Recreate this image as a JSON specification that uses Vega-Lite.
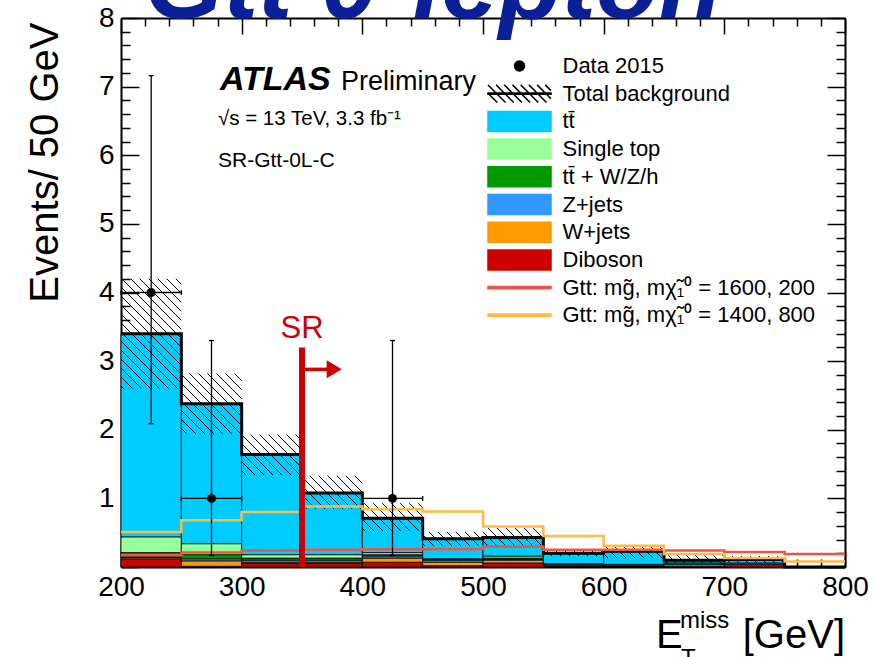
{
  "$schema": "https://vega.github.io/schema/vega-lite/v6.json",
  "width": 724,
  "height": 549,
  "autosize": {"type": "none"},
  "padding": {"left": 121, "top": 18, "right": 30, "bottom": 90},
  "background": "white",
  "config": {
    "view": {"stroke": null},
    "font": "Liberation Sans",
    "axis": {"grid": false, "domainColor": "black", "tickColor": "black", "labelColor": "black", "labelFont": "Liberation Sans", "labelFontSize": 28, "tickWidth": 1.5, "domainWidth": 2, "zindex": 1, "labelFlush": false, "labelOverlap": false, "titleColor": "black"}
  },
  "datasets": {
    "stack": [
      {"lo":200,"hi":250,"p":"Diboson","k":1,"v":0.12},{"lo":200,"hi":250,"p":"W+jets","k":2,"v":0.02},{"lo":200,"hi":250,"p":"Z+jets","k":3,"v":0.01},{"lo":200,"hi":250,"p":"tt\u0304 + W/Z/h","k":4,"v":0.06},{"lo":200,"hi":250,"p":"Single top","k":5,"v":0.23},{"lo":200,"hi":250,"p":"tt\u0304","k":6,"v":2.96},
      {"lo":250,"hi":300,"p":"Diboson","k":1,"v":0.01},{"lo":250,"hi":300,"p":"W+jets","k":2,"v":0.08},{"lo":250,"hi":300,"p":"Z+jets","k":3,"v":0.03},{"lo":250,"hi":300,"p":"tt\u0304 + W/Z/h","k":4,"v":0.06},{"lo":250,"hi":300,"p":"Single top","k":5,"v":0.16},{"lo":250,"hi":300,"p":"tt\u0304","k":6,"v":2.04},
      {"lo":300,"hi":350,"p":"Diboson","k":1,"v":0.05},{"lo":300,"hi":350,"p":"W+jets","k":2,"v":0.02},{"lo":300,"hi":350,"p":"Z+jets","k":3,"v":0.03},{"lo":300,"hi":350,"p":"tt\u0304 + W/Z/h","k":4,"v":0.03},{"lo":300,"hi":350,"p":"Single top","k":5,"v":0.05},{"lo":300,"hi":350,"p":"tt\u0304","k":6,"v":1.46},
      {"lo":350,"hi":400,"p":"Diboson","k":1,"v":0.05},{"lo":350,"hi":400,"p":"W+jets","k":2,"v":0.02},{"lo":350,"hi":400,"p":"Z+jets","k":3,"v":0.03},{"lo":350,"hi":400,"p":"tt\u0304 + W/Z/h","k":4,"v":0.03},{"lo":350,"hi":400,"p":"Single top","k":5,"v":0.05},{"lo":350,"hi":400,"p":"tt\u0304","k":6,"v":0.90},
      {"lo":400,"hi":450,"p":"Diboson","k":1,"v":0.07},{"lo":400,"hi":450,"p":"W+jets","k":2,"v":0.06},{"lo":400,"hi":450,"p":"Z+jets","k":3,"v":0.03},{"lo":400,"hi":450,"p":"tt\u0304 + W/Z/h","k":4,"v":0.02},{"lo":400,"hi":450,"p":"Single top","k":5,"v":0.03},{"lo":400,"hi":450,"p":"tt\u0304","k":6,"v":0.50},
      {"lo":450,"hi":500,"p":"Diboson","k":1,"v":0.02},{"lo":450,"hi":500,"p":"W+jets","k":2,"v":0.05},{"lo":450,"hi":500,"p":"Z+jets","k":3,"v":0.03},{"lo":450,"hi":500,"p":"tt\u0304 + W/Z/h","k":4,"v":0.01},{"lo":450,"hi":500,"p":"Single top","k":5,"v":0.01},{"lo":450,"hi":500,"p":"tt\u0304","k":6,"v":0.29},
      {"lo":500,"hi":550,"p":"Diboson","k":1,"v":0.06},{"lo":500,"hi":550,"p":"W+jets","k":2,"v":0.04},{"lo":500,"hi":550,"p":"Z+jets","k":3,"v":0.01},{"lo":500,"hi":550,"p":"tt\u0304 + W/Z/h","k":4,"v":0.02},{"lo":500,"hi":550,"p":"Single top","k":5,"v":0.03},{"lo":500,"hi":550,"p":"tt\u0304","k":6,"v":0.27},
      {"lo":550,"hi":600,"p":"Diboson","k":1,"v":0.01},{"lo":550,"hi":600,"p":"W+jets","k":2,"v":0.01},{"lo":550,"hi":600,"p":"Z+jets","k":3,"v":0.02},{"lo":550,"hi":600,"p":"tt\u0304 + W/Z/h","k":4,"v":0.01},{"lo":550,"hi":600,"p":"tt\u0304","k":6,"v":0.15},
      {"lo":600,"hi":650,"p":"Diboson","k":1,"v":0.01},{"lo":600,"hi":650,"p":"tt\u0304 + W/Z/h","k":4,"v":0.02},{"lo":600,"hi":650,"p":"Single top","k":5,"v":0.01},{"lo":600,"hi":650,"p":"tt\u0304","k":6,"v":0.19},
      {"lo":650,"hi":700,"p":"Diboson","k":1,"v":0.01},{"lo":650,"hi":700,"p":"Z+jets","k":3,"v":0.03},{"lo":650,"hi":700,"p":"tt\u0304 + W/Z/h","k":4,"v":0.02},{"lo":650,"hi":700,"p":"tt\u0304","k":6,"v":0.04},
      {"lo":700,"hi":750,"p":"Diboson","k":1,"v":0.04},{"lo":700,"hi":750,"p":"Z+jets","k":3,"v":0.02},{"lo":700,"hi":750,"p":"tt\u0304","k":6,"v":0.05}
    ],
    "bins": [
      {"x":200,"tot":3.40,"blo":2.60,"bhi":4.20},
      {"x":250,"tot":2.38,"blo":1.94,"bhi":2.82},
      {"x":300,"tot":1.64,"blo":1.34,"bhi":1.93},
      {"x":350,"tot":1.08,"blo":0.85,"bhi":1.33},
      {"x":400,"tot":0.71,"blo":0.53,"bhi":0.93},
      {"x":450,"tot":0.41,"blo":0.31,"bhi":0.51},
      {"x":500,"tot":0.43,"blo":0.30,"bhi":0.57},
      {"x":550,"tot":0.20,"blo":0.16,"bhi":0.24},
      {"x":600,"tot":0.23,"blo":0.13,"bhi":0.31},
      {"x":650,"tot":0.10,"blo":0.06,"bhi":0.17},
      {"x":700,"tot":0.11,"blo":0.06,"bhi":0.16},
      {"x":750,"tot":0,"blo":0,"bhi":0},
      {"x":800,"tot":0,"blo":0,"bhi":0}
    ],
    "sig": [
      {"x":200,"s":"Gtt: mg\u0303, m\u03c7\u0303\u2081\u2070 = 1600, 200","v":0.17},
      {"x":250,"s":"Gtt: mg\u0303, m\u03c7\u0303\u2081\u2070 = 1600, 200","v":0.21},
      {"x":300,"s":"Gtt: mg\u0303, m\u03c7\u0303\u2081\u2070 = 1600, 200","v":0.24},
      {"x":350,"s":"Gtt: mg\u0303, m\u03c7\u0303\u2081\u2070 = 1600, 200","v":0.25},
      {"x":400,"s":"Gtt: mg\u0303, m\u03c7\u0303\u2081\u2070 = 1600, 200","v":0.26},
      {"x":450,"s":"Gtt: mg\u0303, m\u03c7\u0303\u2081\u2070 = 1600, 200","v":0.26},
      {"x":500,"s":"Gtt: mg\u0303, m\u03c7\u0303\u2081\u2070 = 1600, 200","v":0.30},
      {"x":550,"s":"Gtt: mg\u0303, m\u03c7\u0303\u2081\u2070 = 1600, 200","v":0.25},
      {"x":600,"s":"Gtt: mg\u0303, m\u03c7\u0303\u2081\u2070 = 1600, 200","v":0.25},
      {"x":650,"s":"Gtt: mg\u0303, m\u03c7\u0303\u2081\u2070 = 1600, 200","v":0.24},
      {"x":700,"s":"Gtt: mg\u0303, m\u03c7\u0303\u2081\u2070 = 1600, 200","v":0.22},
      {"x":750,"s":"Gtt: mg\u0303, m\u03c7\u0303\u2081\u2070 = 1600, 200","v":0.19},
      {"x":800,"s":"Gtt: mg\u0303, m\u03c7\u0303\u2081\u2070 = 1600, 200","v":0.19},
      {"x":200,"s":"Gtt: mg\u0303, m\u03c7\u0303\u2081\u2070 = 1400, 800","v":0.51},
      {"x":250,"s":"Gtt: mg\u0303, m\u03c7\u0303\u2081\u2070 = 1400, 800","v":0.68},
      {"x":300,"s":"Gtt: mg\u0303, m\u03c7\u0303\u2081\u2070 = 1400, 800","v":0.80},
      {"x":350,"s":"Gtt: mg\u0303, m\u03c7\u0303\u2081\u2070 = 1400, 800","v":0.88},
      {"x":400,"s":"Gtt: mg\u0303, m\u03c7\u0303\u2081\u2070 = 1400, 800","v":0.84},
      {"x":450,"s":"Gtt: mg\u0303, m\u03c7\u0303\u2081\u2070 = 1400, 800","v":0.81},
      {"x":500,"s":"Gtt: mg\u0303, m\u03c7\u0303\u2081\u2070 = 1400, 800","v":0.59},
      {"x":550,"s":"Gtt: mg\u0303, m\u03c7\u0303\u2081\u2070 = 1400, 800","v":0.45},
      {"x":600,"s":"Gtt: mg\u0303, m\u03c7\u0303\u2081\u2070 = 1400, 800","v":0.31},
      {"x":650,"s":"Gtt: mg\u0303, m\u03c7\u0303\u2081\u2070 = 1400, 800","v":0.19},
      {"x":700,"s":"Gtt: mg\u0303, m\u03c7\u0303\u2081\u2070 = 1400, 800","v":0.13},
      {"x":750,"s":"Gtt: mg\u0303, m\u03c7\u0303\u2081\u2070 = 1400, 800","v":0.08},
      {"x":800,"s":"Gtt: mg\u0303, m\u03c7\u0303\u2081\u2070 = 1400, 800","v":0.08}
    ],
    "pts": [
      {"x":225,"blo":200,"bhi":250,"n":4,"elo":2.09,"ehi":7.16},
      {"x":275,"blo":250,"bhi":300,"n":1,"elo":0.17,"ehi":3.30},
      {"x":425,"blo":400,"bhi":450,"n":1,"elo":0.17,"ehi":3.30}
    ]
  },
  "resolve": {"axis": {"x": "independent", "y": "independent"}},
  "layer": [
    {
      "data": {"name": "stack"},
      "transform": [{"stack": "v", "groupby": ["lo"], "sort": [{"field": "k", "order": "ascending"}], "as": ["y0", "y1"]}],
      "mark": {"type": "rect", "stroke": "black", "strokeWidth": 0.8, "opacity": 1},
      "encoding": {
        "x": {"field": "lo", "type": "quantitative", "scale": {"domain": [200, 800], "nice": false, "zero": false},
              "axis": {"orient": "bottom", "values": [200,300,400,500,600,700,800], "tickSize": -16, "labelPadding": 22, "title": null, "domain": true}},
        "x2": {"field": "hi"},
        "y": {"field": "y0", "type": "quantitative", "scale": {"domain": [0, 8], "nice": false},
              "axis": {"orient": "left", "values": [0,1,2,3,4,5,6,7,8], "tickSize": -18, "labelPadding": 25, "labelExpr": "datum.value == 0 ? '' : datum.label", "domain": true,
                       "title": "Events/ 50 GeV", "titleFont": "Liberation Sans", "titleFontSize": 40, "titleFontWeight": "normal", "titleAngle": 270, "titleX": -64, "titleY": 4, "titleAlign": "right", "titleBaseline": "alphabetic"}},
        "y2": {"field": "y1"},
        "color": {"field": "p", "type": "nominal",
                  "scale": {"domain": ["Data 2015","Total background","tt\u0304","Single top","tt\u0304 + W/Z/h","Z+jets","W+jets","Diboson","Gtt: mg\u0303, m\u03c7\u0303\u2081\u2070 = 1600, 200","Gtt: mg\u0303, m\u03c7\u0303\u2081\u2070 = 1400, 800"],
                            "range": ["#000000","#000000","#00ccff","#99ff99","#009900","#3399ff","#ff9900","#cc0000","#ee5544","#ffbb44"]},
                  "legend": {"orient": "none", "legendX": 367, "legendY": 37, "direction": "vertical", "title": null, "padding": 0,
                             "labelFont": "Liberation Sans", "labelFontSize": 22, "labelColor": "black", "labelLimit": 500, "labelOffset": 32,
                             "symbolSize": 400, "symbolOffset": 20.5, "symbolStrokeWidth": 1.5, "symbolType": "square", "rowPadding": -0.3,
                             "encoding": {"symbols": {
                               "shape": {"value": {"expr": "datum.index == 0 ? 'M0,-1.1M0,1.1M-0.5,0A0.5,0.5,0,1,1,0.5,0A0.5,0.5,0,1,1,-0.5,0Z' : datum.index == 1 ? 'M0,-1.1M0,1.1M-3.15,-0.05L-2.22,0.88M-3.15,-0.87L-1.4,0.88M-2.34,-0.88L-0.58,0.88M-1.52,-0.88L0.24,0.88M-0.7,-0.88L1.06,0.88M0.12,-0.88L1.88,0.88M0.94,-0.88L2.7,0.88M1.76,-0.88L3.15,0.51M2.58,-0.88L3.15,-0.31M-3.15,-0.06L3.15,-0.06L3.15,0.06L-3.15,0.06Z' : datum.index >= 8 ? 'M0,-1.1M0,1.1M-3.15,-0.12L3.15,-0.12L3.15,0.12L-3.15,0.12Z' : 'M0,-1.1M0,1.1M-3.15,-1L3.15,-1L3.15,1L-3.15,1Z'"}},
                               "fill": {"value": {"expr": "scale('color', datum.value)"}},
                               "stroke": {"value": {"expr": "datum.index == 0 || datum.index >= 8 ? 'transparent' : 'black'"}},
                               "opacity": {"value": 1}
                             }}}}
      }
    },
    {
      "data": {"name": "bins"},
      "mark": {"type": "area", "interpolate": "step-after", "opacity": 1,
               "fill": {"gradient": "linear", "x1": 0, "y1": 1, "x2": 1.2069, "y2": 0.5196, "stops": [
{"offset":0,"color":"rgba(0,0,0,0)"},
{"offset":0.17783,"color":"rgba(0,0,0,0)"},{"offset":0.17783,"color":"#000"},{"offset":0.17931,"color":"#000"},{"offset":0.17931,"color":"rgba(0,0,0,0)"},
{"offset":0.18672,"color":"rgba(0,0,0,0)"},{"offset":0.18672,"color":"#000"},{"offset":0.18820,"color":"#000"},{"offset":0.18820,"color":"rgba(0,0,0,0)"},
{"offset":0.19561,"color":"rgba(0,0,0,0)"},{"offset":0.19561,"color":"#000"},{"offset":0.19709,"color":"#000"},{"offset":0.19709,"color":"rgba(0,0,0,0)"},
{"offset":0.20451,"color":"rgba(0,0,0,0)"},{"offset":0.20451,"color":"#000"},{"offset":0.20599,"color":"#000"},{"offset":0.20599,"color":"rgba(0,0,0,0)"},
{"offset":0.21340,"color":"rgba(0,0,0,0)"},{"offset":0.21340,"color":"#000"},{"offset":0.21488,"color":"#000"},{"offset":0.21488,"color":"rgba(0,0,0,0)"},
{"offset":0.22229,"color":"rgba(0,0,0,0)"},{"offset":0.22229,"color":"#000"},{"offset":0.22377,"color":"#000"},{"offset":0.22377,"color":"rgba(0,0,0,0)"},
{"offset":0.23118,"color":"rgba(0,0,0,0)"},{"offset":0.23118,"color":"#000"},{"offset":0.23266,"color":"#000"},{"offset":0.23266,"color":"rgba(0,0,0,0)"},
{"offset":0.24007,"color":"rgba(0,0,0,0)"},{"offset":0.24007,"color":"#000"},{"offset":0.24155,"color":"#000"},{"offset":0.24155,"color":"rgba(0,0,0,0)"},
{"offset":0.24896,"color":"rgba(0,0,0,0)"},{"offset":0.24896,"color":"#000"},{"offset":0.25044,"color":"#000"},{"offset":0.25044,"color":"rgba(0,0,0,0)"},
{"offset":0.25786,"color":"rgba(0,0,0,0)"},{"offset":0.25786,"color":"#000"},{"offset":0.25934,"color":"#000"},{"offset":0.25934,"color":"rgba(0,0,0,0)"},
{"offset":0.26675,"color":"rgba(0,0,0,0)"},{"offset":0.26675,"color":"#000"},{"offset":0.26823,"color":"#000"},{"offset":0.26823,"color":"rgba(0,0,0,0)"},
{"offset":0.27564,"color":"rgba(0,0,0,0)"},{"offset":0.27564,"color":"#000"},{"offset":0.27712,"color":"#000"},{"offset":0.27712,"color":"rgba(0,0,0,0)"},
{"offset":0.28453,"color":"rgba(0,0,0,0)"},{"offset":0.28453,"color":"#000"},{"offset":0.28601,"color":"#000"},{"offset":0.28601,"color":"rgba(0,0,0,0)"},
{"offset":0.29342,"color":"rgba(0,0,0,0)"},{"offset":0.29342,"color":"#000"},{"offset":0.29490,"color":"#000"},{"offset":0.29490,"color":"rgba(0,0,0,0)"},
{"offset":0.30231,"color":"rgba(0,0,0,0)"},{"offset":0.30231,"color":"#000"},{"offset":0.30379,"color":"#000"},{"offset":0.30379,"color":"rgba(0,0,0,0)"},
{"offset":0.31120,"color":"rgba(0,0,0,0)"},{"offset":0.31120,"color":"#000"},{"offset":0.31268,"color":"#000"},{"offset":0.31268,"color":"rgba(0,0,0,0)"},
{"offset":0.32010,"color":"rgba(0,0,0,0)"},{"offset":0.32010,"color":"#000"},{"offset":0.32158,"color":"#000"},{"offset":0.32158,"color":"rgba(0,0,0,0)"},
{"offset":0.32899,"color":"rgba(0,0,0,0)"},{"offset":0.32899,"color":"#000"},{"offset":0.33047,"color":"#000"},{"offset":0.33047,"color":"rgba(0,0,0,0)"},
{"offset":0.33788,"color":"rgba(0,0,0,0)"},{"offset":0.33788,"color":"#000"},{"offset":0.33936,"color":"#000"},{"offset":0.33936,"color":"rgba(0,0,0,0)"},
{"offset":0.34677,"color":"rgba(0,0,0,0)"},{"offset":0.34677,"color":"#000"},{"offset":0.34825,"color":"#000"},{"offset":0.34825,"color":"rgba(0,0,0,0)"},
{"offset":0.35566,"color":"rgba(0,0,0,0)"},{"offset":0.35566,"color":"#000"},{"offset":0.35714,"color":"#000"},{"offset":0.35714,"color":"rgba(0,0,0,0)"},
{"offset":0.36455,"color":"rgba(0,0,0,0)"},{"offset":0.36455,"color":"#000"},{"offset":0.36603,"color":"#000"},{"offset":0.36603,"color":"rgba(0,0,0,0)"},
{"offset":0.37344,"color":"rgba(0,0,0,0)"},{"offset":0.37344,"color":"#000"},{"offset":0.37492,"color":"#000"},{"offset":0.37492,"color":"rgba(0,0,0,0)"},
{"offset":0.38234,"color":"rgba(0,0,0,0)"},{"offset":0.38234,"color":"#000"},{"offset":0.38382,"color":"#000"},{"offset":0.38382,"color":"rgba(0,0,0,0)"},
{"offset":0.39123,"color":"rgba(0,0,0,0)"},{"offset":0.39123,"color":"#000"},{"offset":0.39271,"color":"#000"},{"offset":0.39271,"color":"rgba(0,0,0,0)"},
{"offset":0.40012,"color":"rgba(0,0,0,0)"},{"offset":0.40012,"color":"#000"},{"offset":0.40160,"color":"#000"},{"offset":0.40160,"color":"rgba(0,0,0,0)"},
{"offset":0.40901,"color":"rgba(0,0,0,0)"},{"offset":0.40901,"color":"#000"},{"offset":0.41049,"color":"#000"},{"offset":0.41049,"color":"rgba(0,0,0,0)"},
{"offset":0.41790,"color":"rgba(0,0,0,0)"},{"offset":0.41790,"color":"#000"},{"offset":0.41938,"color":"#000"},{"offset":0.41938,"color":"rgba(0,0,0,0)"},
{"offset":0.42679,"color":"rgba(0,0,0,0)"},{"offset":0.42679,"color":"#000"},{"offset":0.42827,"color":"#000"},{"offset":0.42827,"color":"rgba(0,0,0,0)"},
{"offset":0.43568,"color":"rgba(0,0,0,0)"},{"offset":0.43568,"color":"#000"},{"offset":0.43716,"color":"#000"},{"offset":0.43716,"color":"rgba(0,0,0,0)"},
{"offset":0.44458,"color":"rgba(0,0,0,0)"},{"offset":0.44458,"color":"#000"},{"offset":0.44606,"color":"#000"},{"offset":0.44606,"color":"rgba(0,0,0,0)"},
{"offset":0.45347,"color":"rgba(0,0,0,0)"},{"offset":0.45347,"color":"#000"},{"offset":0.45495,"color":"#000"},{"offset":0.45495,"color":"rgba(0,0,0,0)"},
{"offset":0.46236,"color":"rgba(0,0,0,0)"},{"offset":0.46236,"color":"#000"},{"offset":0.46384,"color":"#000"},{"offset":0.46384,"color":"rgba(0,0,0,0)"},
{"offset":0.47125,"color":"rgba(0,0,0,0)"},{"offset":0.47125,"color":"#000"},{"offset":0.47273,"color":"#000"},{"offset":0.47273,"color":"rgba(0,0,0,0)"},
{"offset":0.48014,"color":"rgba(0,0,0,0)"},{"offset":0.48014,"color":"#000"},{"offset":0.48162,"color":"#000"},{"offset":0.48162,"color":"rgba(0,0,0,0)"},
{"offset":0.48903,"color":"rgba(0,0,0,0)"},{"offset":0.48903,"color":"#000"},{"offset":0.49051,"color":"#000"},{"offset":0.49051,"color":"rgba(0,0,0,0)"},
{"offset":0.49792,"color":"rgba(0,0,0,0)"},{"offset":0.49792,"color":"#000"},{"offset":0.49940,"color":"#000"},{"offset":0.49940,"color":"rgba(0,0,0,0)"},
{"offset":0.50682,"color":"rgba(0,0,0,0)"},{"offset":0.50682,"color":"#000"},{"offset":0.50830,"color":"#000"},{"offset":0.50830,"color":"rgba(0,0,0,0)"},
{"offset":0.51571,"color":"rgba(0,0,0,0)"},{"offset":0.51571,"color":"#000"},{"offset":0.51719,"color":"#000"},{"offset":0.51719,"color":"rgba(0,0,0,0)"},
{"offset":0.52460,"color":"rgba(0,0,0,0)"},{"offset":0.52460,"color":"#000"},{"offset":0.52608,"color":"#000"},{"offset":0.52608,"color":"rgba(0,0,0,0)"},
{"offset":0.53349,"color":"rgba(0,0,0,0)"},{"offset":0.53349,"color":"#000"},{"offset":0.53497,"color":"#000"},{"offset":0.53497,"color":"rgba(0,0,0,0)"},
{"offset":0.54238,"color":"rgba(0,0,0,0)"},{"offset":0.54238,"color":"#000"},{"offset":0.54386,"color":"#000"},{"offset":0.54386,"color":"rgba(0,0,0,0)"},
{"offset":0.55127,"color":"rgba(0,0,0,0)"},{"offset":0.55127,"color":"#000"},{"offset":0.55275,"color":"#000"},{"offset":0.55275,"color":"rgba(0,0,0,0)"},
{"offset":0.56017,"color":"rgba(0,0,0,0)"},{"offset":0.56017,"color":"#000"},{"offset":0.56165,"color":"#000"},{"offset":0.56165,"color":"rgba(0,0,0,0)"},
{"offset":0.56906,"color":"rgba(0,0,0,0)"},{"offset":0.56906,"color":"#000"},{"offset":0.57054,"color":"#000"},{"offset":0.57054,"color":"rgba(0,0,0,0)"},
{"offset":0.57795,"color":"rgba(0,0,0,0)"},{"offset":0.57795,"color":"#000"},{"offset":0.57943,"color":"#000"},{"offset":0.57943,"color":"rgba(0,0,0,0)"},
{"offset":0.58684,"color":"rgba(0,0,0,0)"},{"offset":0.58684,"color":"#000"},{"offset":0.58832,"color":"#000"},{"offset":0.58832,"color":"rgba(0,0,0,0)"},
{"offset":0.59573,"color":"rgba(0,0,0,0)"},{"offset":0.59573,"color":"#000"},{"offset":0.59721,"color":"#000"},{"offset":0.59721,"color":"rgba(0,0,0,0)"},
{"offset":0.60462,"color":"rgba(0,0,0,0)"},{"offset":0.60462,"color":"#000"},{"offset":0.60610,"color":"#000"},{"offset":0.60610,"color":"rgba(0,0,0,0)"},
{"offset":0.61351,"color":"rgba(0,0,0,0)"},{"offset":0.61351,"color":"#000"},{"offset":0.61499,"color":"#000"},{"offset":0.61499,"color":"rgba(0,0,0,0)"},
{"offset":0.62241,"color":"rgba(0,0,0,0)"},{"offset":0.62241,"color":"#000"},{"offset":0.62389,"color":"#000"},{"offset":0.62389,"color":"rgba(0,0,0,0)"},
{"offset":0.63130,"color":"rgba(0,0,0,0)"},{"offset":0.63130,"color":"#000"},{"offset":0.63278,"color":"#000"},{"offset":0.63278,"color":"rgba(0,0,0,0)"},
{"offset":0.64019,"color":"rgba(0,0,0,0)"},{"offset":0.64019,"color":"#000"},{"offset":0.64167,"color":"#000"},{"offset":0.64167,"color":"rgba(0,0,0,0)"},
{"offset":0.64908,"color":"rgba(0,0,0,0)"},{"offset":0.64908,"color":"#000"},{"offset":0.65056,"color":"#000"},{"offset":0.65056,"color":"rgba(0,0,0,0)"},
{"offset":0.65797,"color":"rgba(0,0,0,0)"},{"offset":0.65797,"color":"#000"},{"offset":0.65945,"color":"#000"},{"offset":0.65945,"color":"rgba(0,0,0,0)"},
{"offset":0.66686,"color":"rgba(0,0,0,0)"},{"offset":0.66686,"color":"#000"},{"offset":0.66834,"color":"#000"},{"offset":0.66834,"color":"rgba(0,0,0,0)"},
{"offset":1,"color":"rgba(0,0,0,0)"}
               ]}},
      "encoding": {
        "x": {"field": "x", "type": "quantitative",
              "axis": {"orient": "bottom", "values": [220,240,260,280,320,340,360,380,420,440,460,480,520,540,560,580,620,640,660,680,720,740,760,780], "tickSize": -8, "labels": false, "domain": false, "title": null}},
        "y": {"field": "blo", "type": "quantitative",
              "axis": {"orient": "left", "values": [0.2,0.4,0.6,0.8,1.2,1.4,1.6,1.8,2.2,2.4,2.6,2.8,3.2,3.4,3.6,3.8,4.2,4.4,4.6,4.8,5.2,5.4,5.6,5.8,6.2,6.4,6.6,6.8,7.2,7.4,7.6,7.8], "tickSize": -9, "labels": false, "domain": false, "title": null}},
        "y2": {"field": "bhi"}
      }
    },
    {
      "data": {"name": "bins"},
      "mark": {"type": "line", "interpolate": "step-after", "color": "black", "strokeWidth": 3},
      "encoding": {
        "x": {"field": "x", "type": "quantitative",
              "axis": {"orient": "top", "values": [200,300,400,500,600,700,800], "tickSize": -16, "labels": false, "domain": true, "title": null}},
        "y": {"field": "tot", "type": "quantitative",
              "axis": {"orient": "right", "values": [0,1,2,3,4,5,6,7,8], "tickSize": -18, "labels": false, "domain": true, "title": null}}
      }
    },
    {
      "data": {"name": "sig"},
      "mark": {"type": "line", "interpolate": "step-after", "strokeWidth": 2.5},
      "encoding": {
        "x": {"field": "x", "type": "quantitative",
              "axis": {"orient": "top", "values": [220,240,260,280,320,340,360,380,420,440,460,480,520,540,560,580,620,640,660,680,720,740,760,780], "tickSize": -8, "labels": false, "domain": false, "title": null}},
        "y": {"field": "v", "type": "quantitative",
              "axis": {"orient": "right", "values": [0.2,0.4,0.6,0.8,1.2,1.4,1.6,1.8,2.2,2.4,2.6,2.8,3.2,3.4,3.6,3.8,4.2,4.4,4.6,4.8,5.2,5.4,5.6,5.8,6.2,6.4,6.6,6.8,7.2,7.4,7.6,7.8], "tickSize": -9, "labels": false, "domain": false, "title": null}},
        "color": {"field": "s", "type": "nominal",
                  "scale": {"domain": ["Data 2015","Total background","tt\u0304","Single top","tt\u0304 + W/Z/h","Z+jets","W+jets","Diboson","Gtt: mg\u0303, m\u03c7\u0303\u2081\u2070 = 1600, 200","Gtt: mg\u0303, m\u03c7\u0303\u2081\u2070 = 1400, 800"],
                            "range": ["#000000","#000000","#00ccff","#99ff99","#009900","#3399ff","#ff9900","#cc0000","#ee5544","#ffbb44"]},
                  "legend": {"orient": "none", "legendX": 367, "legendY": 37, "direction": "vertical", "title": null, "padding": 0,
                             "labelFont": "Liberation Sans", "labelFontSize": 22, "labelColor": "black", "labelLimit": 500, "labelOffset": 32,
                             "symbolSize": 400, "symbolOffset": 20.5, "symbolStrokeWidth": 1.5, "symbolType": "square", "rowPadding": -0.3,
                             "encoding": {"symbols": {
                               "shape": {"value": {"expr": "datum.index == 0 ? 'M0,-1.1M0,1.1M-0.5,0A0.5,0.5,0,1,1,0.5,0A0.5,0.5,0,1,1,-0.5,0Z' : datum.index == 1 ? 'M0,-1.1M0,1.1M-3.15,-0.05L-2.22,0.88M-3.15,-0.87L-1.4,0.88M-2.34,-0.88L-0.58,0.88M-1.52,-0.88L0.24,0.88M-0.7,-0.88L1.06,0.88M0.12,-0.88L1.88,0.88M0.94,-0.88L2.7,0.88M1.76,-0.88L3.15,0.51M2.58,-0.88L3.15,-0.31M-3.15,-0.06L3.15,-0.06L3.15,0.06L-3.15,0.06Z' : datum.index >= 8 ? 'M0,-1.1M0,1.1M-3.15,-0.12L3.15,-0.12L3.15,0.12L-3.15,0.12Z' : 'M0,-1.1M0,1.1M-3.15,-1L3.15,-1L3.15,1L-3.15,1Z'"}},
                               "fill": {"value": {"expr": "scale('color', datum.value)"}},
                               "stroke": {"value": {"expr": "datum.index == 0 || datum.index >= 8 ? 'transparent' : 'black'"}},
                               "opacity": {"value": 1}
                             }}}}
      }
    },
    {
      "data": {"name": "pts"},
      "mark": {"type": "rule", "color": "black", "strokeWidth": 1.3},
      "encoding": {
        "x": {"field": "x", "type": "quantitative", "axis": null},
        "y": {"field": "elo", "type": "quantitative", "axis": null},
        "y2": {"field": "ehi"}
      }
    },
    {
      "data": {"name": "pts"},
      "mark": {"type": "rule", "color": "black", "strokeWidth": 1.3},
      "encoding": {
        "x": {"field": "blo", "type": "quantitative", "axis": null},
        "x2": {"field": "bhi"},
        "y": {"field": "n", "type": "quantitative", "axis": null}
      }
    },
    {
      "data": {"name": "pts"},
      "mark": {"type": "tick", "orient": "horizontal", "size": 5, "thickness": 1.3, "color": "black", "opacity": 1},
      "encoding": {
        "x": {"field": "x", "type": "quantitative", "axis": null},
        "y": {"field": "ehi", "type": "quantitative", "axis": null}
      }
    },
    {
      "data": {"name": "pts"},
      "mark": {"type": "tick", "orient": "horizontal", "size": 5, "thickness": 1.3, "color": "black", "opacity": 1},
      "encoding": {
        "x": {"field": "x", "type": "quantitative", "axis": null},
        "y": {"field": "elo", "type": "quantitative", "axis": null}
      }
    },
    {
      "data": {"name": "pts"},
      "mark": {"type": "tick", "orient": "vertical", "size": 5, "thickness": 1.3, "color": "black", "opacity": 1},
      "encoding": {
        "x": {"field": "blo", "type": "quantitative", "axis": null},
        "y": {"field": "n", "type": "quantitative", "axis": null}
      }
    },
    {
      "data": {"name": "pts"},
      "mark": {"type": "tick", "orient": "vertical", "size": 5, "thickness": 1.3, "color": "black", "opacity": 1},
      "encoding": {
        "x": {"field": "bhi", "type": "quantitative", "axis": null},
        "y": {"field": "n", "type": "quantitative", "axis": null}
      }
    },
    {
      "data": {"name": "pts"},
      "mark": {"type": "point", "filled": true, "size": 80, "color": "black", "opacity": 1},
      "encoding": {
        "x": {"field": "x", "type": "quantitative", "axis": null},
        "y": {"field": "n", "type": "quantitative", "axis": null}
      }
    },
    {
      "data": {"values": [{}]},
      "mark": {"type": "rule", "color": "#cc0000", "strokeWidth": 6},
      "encoding": {"x": {"datum": 350, "axis": null}, "y": {"datum": 0, "axis": null}, "y2": {"datum": 3.2}}
    },
    {
      "data": {"values": [{}]},
      "mark": {"type": "rule", "color": "#cc0000", "strokeWidth": 3.5},
      "encoding": {"x": {"datum": 350, "axis": null}, "x2": {"datum": 371}, "y": {"datum": 2.88, "axis": null}}
    },
    {
      "data": {"values": [{}]},
      "mark": {"type": "point", "shape": "M-1,-1.2L1,0L-1,1.2Z", "size": 225, "filled": true, "color": "#cc0000", "opacity": 1},
      "encoding": {"x": {"datum": 376.7, "axis": null}, "y": {"datum": 2.88, "axis": null}}
    },
    {
      "data": {"values": [{}]},
      "mark": {"type": "text", "text": "SR", "font": "Liberation Sans", "fontSize": 31, "color": "#cc0000", "align": "center", "baseline": "alphabetic"},
      "encoding": {"x": {"datum": 350, "axis": null}, "y": {"datum": 3.333, "axis": null}}
    },
    {
      "data": {"values": [{}]},
      "mark": {"type": "text", "text": "ATLAS", "font": "Liberation Sans", "fontSize": 34, "fontWeight": "bold", "fontStyle": "italic", "color": "black", "align": "left", "baseline": "alphabetic"},
      "encoding": {"x": {"datum": 282.04, "axis": null}, "y": {"datum": 6.951, "axis": null}}
    },
    {
      "data": {"values": [{}]},
      "mark": {"type": "text", "text": "Preliminary", "font": "Liberation Sans", "fontSize": 27, "color": "black", "align": "left", "baseline": "alphabetic"},
      "encoding": {"x": {"datum": 382.3, "axis": null}, "y": {"datum": 6.951, "axis": null}}
    },
    {
      "data": {"values": [{}]},
      "mark": {"type": "text", "text": "\u221as = 13 TeV, 3.3 fb\u207b\u00b9", "font": "Liberation Sans", "fontSize": 20.5, "color": "black", "align": "left", "baseline": "alphabetic"},
      "encoding": {"x": {"datum": 280.39, "axis": null}, "y": {"datum": 6.441, "axis": null}}
    },
    {
      "data": {"values": [{}]},
      "mark": {"type": "text", "text": "SR-Gtt-0L-C", "font": "Liberation Sans", "fontSize": 21, "color": "black", "align": "left", "baseline": "alphabetic"},
      "encoding": {"x": {"datum": 280.39, "axis": null}, "y": {"datum": 5.833, "axis": null}}
    },
    {
      "data": {"values": [{}]},
      "mark": {"type": "text", "text": "Gtt 0-lepton", "font": "Liberation Sans", "fontSize": 103, "fontWeight": "bold", "fontStyle": "italic", "color": "#0b1f98", "align": "left", "baseline": "alphabetic"},
      "encoding": {"x": {"datum": 219.0, "axis": null}, "y": {"datum": 8.0, "axis": null}}
    },
    {
      "data": {"values": [{}]},
      "mark": {"type": "text", "text": "E", "font": "Liberation Sans", "fontSize": 40, "color": "black", "align": "left", "baseline": "alphabetic"},
      "encoding": {"x": {"datum": 643.4, "axis": null}, "y": {"datum": -1.185, "axis": null}}
    },
    {
      "data": {"values": [{}]},
      "mark": {"type": "text", "text": "miss", "font": "Liberation Sans", "fontSize": 24, "color": "black", "align": "left", "baseline": "alphabetic"},
      "encoding": {"x": {"datum": 663.3, "axis": null}, "y": {"datum": -0.893, "axis": null}}
    },
    {
      "data": {"values": [{}]},
      "mark": {"type": "text", "text": "T", "font": "Liberation Sans", "fontSize": 24, "color": "black", "align": "left", "baseline": "alphabetic"},
      "encoding": {"x": {"datum": 664.1, "axis": null}, "y": {"datum": -1.443, "axis": null}}
    },
    {
      "data": {"values": [{}]},
      "mark": {"type": "text", "text": "[GeV]", "font": "Liberation Sans", "fontSize": 40, "color": "black", "align": "right", "baseline": "alphabetic"},
      "encoding": {"x": {"datum": 800, "axis": null}, "y": {"datum": -1.185, "axis": null}}
    }
  ]
}
